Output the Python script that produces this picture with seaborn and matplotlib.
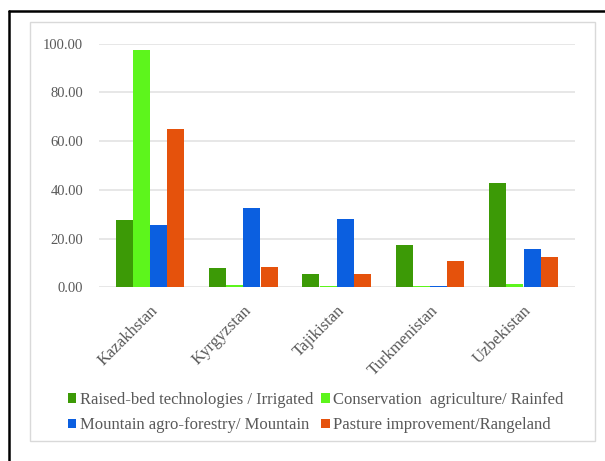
import matplotlib
matplotlib.use("Agg")
import matplotlib.pyplot as plt
import matplotlib.transforms as mtransforms
import seaborn as sns
import pandas as pd
from matplotlib.patches import Rectangle
from matplotlib.lines import Line2D

countries = ["Kazakhstan", "Kyrgyzstan", "Tajikistan", "Turkmenistan", "Uzbekistan"]
series = ["Raised-bed technologies / Irrigated",
          "Conservation  agriculture/ Rainfed",
          "Mountain agro-forestry/ Mountain",
          "Pasture improvement/Rangeland"]
raised_bed = [27.5, 8.0, 5.5, 17.5, 43.0]
conservation = [97.5, 1.0, 0.5, 0.3, 1.2]
mountain = [25.5, 32.5, 28.0, 0.4, 15.5]
pasture = [65.0, 8.3, 5.3, 10.8, 12.5]
colors = ["#3c9a06", "#5df51c", "#0b5fe0", "#e5520c"]

rows = []
for s, vals in zip(series, [raised_bed, conservation, mountain, pasture]):
    for c, v in zip(countries, vals):
        rows.append({"country": c, "series": s, "value": v})
df = pd.DataFrame(rows)

sns.set_theme(style="white")
plt.rcParams["font.family"] = ["Liberation Serif", "DejaVu Serif"]

fig = plt.figure(figsize=(6.05, 4.61), dpi=100)
ax = fig.add_axes([0.163, 0.377, 0.787, 0.528])

sns.barplot(data=df, x="country", y="value", hue="series", hue_order=series,
            palette=colors, width=0.74, gap=0.02, ax=ax, saturation=1,
            edgecolor="none", linewidth=0)

ax.set_ylim(0, 100)
ax.set_xlim(-0.55, 4.55)
yt = [0, 20, 40, 60, 80, 100]
ax.set_yticks(yt)
ax.set_yticklabels([f"{v:.2f}" for v in yt], fontsize=10.5, color="#595959")
shift = mtransforms.ScaledTranslation(0, -3 / 100, fig.dpi_scale_trans)
for lab in ax.get_yticklabels():
    lab.set_transform(lab.get_transform() + shift)
ax.yaxis.grid(True, color="#e3e3e3", linewidth=1.2)
ax.set_axisbelow(True)
ax.tick_params(axis="y", length=0, pad=11)
ax.tick_params(axis="x", length=0, pad=11)
ax.set_xticks(range(len(countries)))
ax.set_xticklabels(countries, rotation=45, ha="right", rotation_mode="anchor",
                   fontsize=12, color="#595959")
ax.set_xlabel("")
ax.set_ylabel("")
for sp in ax.spines.values():
    sp.set_visible(False)

handles, labels = ax.get_legend_handles_labels()
ax.get_legend().remove()
order = [0, 2, 1, 3]
leg = fig.legend([handles[i] for i in order], [labels[i] for i in order],
                 loc="center", bbox_to_anchor=(0.522, 0.105), ncol=2,
                 frameon=False, fontsize=12, handlelength=0.5, handleheight=0.5,
                 handletextpad=0.2, columnspacing=0.5, labelspacing=0.55)
for t in leg.get_texts():
    t.set_color("#595959")

# inner light frame
fig.patches.append(Rectangle((30 / 605, 1 - 441 / 461), 565 / 605, 419 / 461,
                             transform=fig.transFigure, fill=False,
                             edgecolor="#d9d9d9", linewidth=1))
# outer black border (top and left)
fig.lines.append(Line2D([9 / 605, 1.0], [1 - 11 / 461, 1 - 11 / 461],
                        transform=fig.transFigure, color="black", linewidth=1.8))
fig.lines.append(Line2D([9 / 605, 9 / 605], [0, 1 - 11 / 461],
                        transform=fig.transFigure, color="black", linewidth=1.8))

fig.savefig("out.png", dpi=100, facecolor="white")
